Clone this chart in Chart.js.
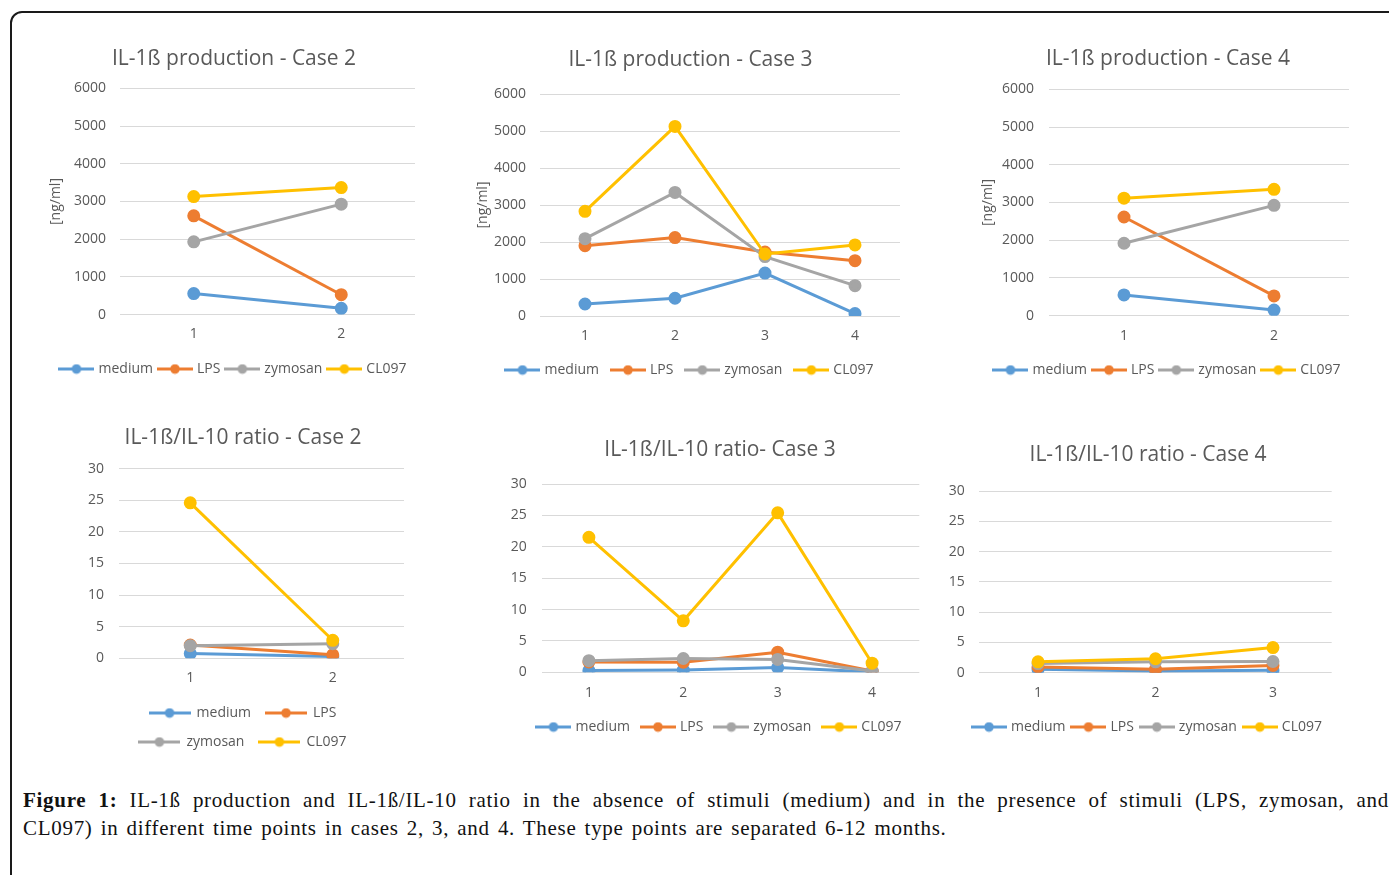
<!DOCTYPE html>
<html>
<head>
<meta charset="utf-8">
<title>IL-1ß production and IL-1ß/IL-10 ratio</title>
<script src="https://cdn.jsdelivr.net/npm/chart.js@4.4.1/dist/chart.umd.min.js"></script>
<style>
  html, body { margin: 0; padding: 0; background: #fff; width: 1389px; height: 875px; overflow: hidden; }
  .frame { position: absolute; left: 10px; top: 11px; width: 1420px; height: 920px; border: 2px solid #1a1a1a; border-radius: 12px; }
  canvas { position: absolute; }
  .caption { position: absolute; left: 23px; top: 786px; width: 1366px; font-family: "Liberation Serif", "Times New Roman", serif; font-size: 21px; line-height: 28px; color: #111; letter-spacing: 0.7px; word-spacing: 2.2px; }
  .caption .l1 { text-align: justify; text-align-last: justify; }
  .caption b { font-weight: bold; }
</style>
</head>
<body>
<div class="frame"></div>
<div class="caption">
  <div class="l1"><b>Figure 1:</b> IL-1ß production and IL-1ß/IL-10 ratio in the absence of stimuli (medium) and in the presence of stimuli (LPS, zymosan, and</div>
  <div>CL097) in different time points in cases 2, 3, and 4. These type points are separated 6-12 months.</div>
</div>
<script>
// series names and colours (Excel default palette)
const stimuli = ['medium', 'LPS', 'zymosan', 'CL097'];
const colors = ['#5B9BD5', '#ED7D31', '#A5A5A5', '#FFC000'];

// IL-1ß production [ng/ml]
const prodCase2Points = ['1', '2'];
const prodCase2Medium = [560, 170];
const prodCase2LPS = [2620, 530];
const prodCase2Zymosan = [1930, 2930];
const prodCase2CL097 = [3130, 3370];

const prodCase3Points = ['1', '2', '3', '4'];
const prodCase3Medium = [325, 480, 1160, 65];
const prodCase3LPS = [1900, 2120, 1730, 1495];
const prodCase3Zymosan = [2090, 3340, 1605, 820];
const prodCase3CL097 = [2830, 5125, 1675, 1920];

const prodCase4Points = ['1', '2'];
const prodCase4Medium = [550, 150];
const prodCase4LPS = [2615, 525];
const prodCase4Zymosan = [1920, 2925];
const prodCase4CL097 = [3115, 3350];

// IL-1ß/IL-10 ratio
const ratioCase2Points = ['1', '2'];
const ratioCase2Medium = [0.75, 0.3];
const ratioCase2LPS = [2.1, 0.55];
const ratioCase2Zymosan = [2.0, 2.3];
const ratioCase2CL097 = [24.6, 2.85];

const ratioCase3Points = ['1', '2', '3', '4'];
const ratioCase3Medium = [0.27, 0.37, 0.75, 0.05];
const ratioCase3LPS = [1.65, 1.6, 3.2, 0.2];
const ratioCase3Zymosan = [1.85, 2.2, 2.05, 0.2];
const ratioCase3CL097 = [21.5, 8.2, 25.4, 1.45];

const ratioCase4Points = ['1', '2', '3'];
const ratioCase4Medium = [0.55, 0.3, 0.4];
const ratioCase4LPS = [0.95, 0.55, 1.2];
const ratioCase4Zymosan = [1.5, 1.8, 1.85];
const ratioCase4CL097 = [1.8, 2.3, 4.15];

// y axis ranges
const prodMax = 6000, prodStep = 1000;
const ratioMax = 30, ratioStep = 5;

const textGrey = '#595959';
const font = '"Open Sans", "Noto Sans", sans-serif';

// where each panel sits on the page (canvas edges and the plot box inside it)
const panels = [
  { title: 'IL-1ß production - Case 2', labels: prodCase2Points,
    series: [prodCase2Medium, prodCase2LPS, prodCase2Zymosan, prodCase2CL097], max: prodMax, step: prodStep, yTitle: '[ng/ml]',
    left: 48, right: 420, gridLeft: 120, gridRight: 415, titleY: 58.3, gridTop: 88.3, gridBottom: 315, xLabelY: 334.3, legendY: 369.3, yPad: 14, legendPad: 7 },
  { title: 'IL-1ß production - Case 3', labels: prodCase3Points,
    series: [prodCase3Medium, prodCase3LPS, prodCase3Zymosan, prodCase3CL097], max: prodMax, step: prodStep, yTitle: '[ng/ml]',
    left: 475, right: 906, gridLeft: 540, gridRight: 900, titleY: 59.3, gridTop: 94, gridBottom: 316, xLabelY: 336, legendY: 370, yPad: 14, legendPad: 14 },
  { title: 'IL-1ß production - Case 4', labels: prodCase4Points,
    series: [prodCase4Medium, prodCase4LPS, prodCase4Zymosan, prodCase4CL097], max: prodMax, step: prodStep, yTitle: '[ng/ml]',
    left: 980, right: 1356, gridLeft: 1049, gridRight: 1349, titleY: 59, gridTop: 89.3, gridBottom: 315.7, xLabelY: 335.7, legendY: 370, yPad: 15, legendPad: 7 },
  { title: 'IL-1ß/IL-10 ratio - Case 2', labels: ratioCase2Points,
    series: [ratioCase2Medium, ratioCase2LPS, ratioCase2Zymosan, ratioCase2CL097], max: ratioMax, step: ratioStep,
    left: 82, right: 404, gridLeft: 119, gridRight: 404, titleY: 437.7, gridTop: 468.7, gridBottom: 658, xLabelY: 677.7, legendY: 712.7, yPad: 15,
    legendRows: 2, legendPad: 15, markBox: 40, markLen: 42 },
  { title: 'IL-1ß/IL-10 ratio- Case 3', labels: ratioCase3Points,
    series: [ratioCase3Medium, ratioCase3LPS, ratioCase3Zymosan, ratioCase3CL097], max: ratioMax, step: ratioStep,
    left: 510, right: 930, gridLeft: 541.7, gridRight: 919.3, titleY: 449.3, gridTop: 484, gridBottom: 672.3, xLabelY: 692.7, legendY: 727, yPad: 15, legendPad: 13 },
  { title: 'IL-1ß/IL-10 ratio - Case 4', labels: ratioCase4Points,
    series: [ratioCase4Medium, ratioCase4LPS, ratioCase4Zymosan, ratioCase4CL097], max: ratioMax, step: ratioStep,
    left: 945, right: 1351, gridLeft: 979.3, gridRight: 1331.7, titleY: 455, gridTop: 491, gridBottom: 672.7, xLabelY: 692.7, legendY: 727, yPad: 14.6, legendPad: 8 }
];

const titleSize = 21, tickSize = 14, legendSize = 14;

// legend marker: line with a dot, like Excel
function makeMark(color, len) {
  const c = document.createElement('canvas');
  c.width = len; c.height = 11;
  const g = c.getContext('2d');
  g.strokeStyle = color; g.lineWidth = 3;
  g.beginPath(); g.moveTo(0, 5.5); g.lineTo(len, 5.5); g.stroke();
  g.fillStyle = color;
  g.beginPath(); g.arc(len / 2, 5.5, 4.8, 0, Math.PI * 2); g.fill();
  return c;
}

panels.forEach(p => {
  const lp = p.legendPad;
  const rows = p.legendRows || 1;
  const marks = colors.map(c => makeMark(c, p.markLen || 36));
  const top = Math.round(p.titleY - titleSize * 1.2 / 2);
  const titlePadBottom = p.gridTop - top - titleSize * 1.2;
  const legendTop = p.legendY - lp - legendSize / 2;
  const bottom = legendTop + rows * (legendSize + lp) + 10;
  const xH = legendTop - p.gridBottom;
  const yW = p.gridLeft - p.left;
  const rW = p.right - p.gridRight;
  const xPad = p.xLabelY - p.gridBottom - tickSize * 1.2 / 2;

  const canvas = document.createElement('canvas');
  canvas.width = p.right - p.left;
  canvas.height = Math.round(bottom - top);
  canvas.style.left = p.left + 'px';
  canvas.style.top = top + 'px';
  document.body.appendChild(canvas);

  const scales = {
    x: {
      offset: true,
      grid: { display: false, drawTicks: false },
      border: { display: false },
      ticks: { color: textGrey, font: { family: font, size: tickSize }, padding: xPad, maxRotation: 0 },
      afterFit: s => { s.height = xH; s.paddingLeft = 0; s.paddingRight = 0; }
    },
    y: {
      min: 0, max: p.max,
      grid: { color: '#D9D9D9', lineWidth: 1, drawTicks: false },
      border: { display: false },
      ticks: { stepSize: p.step, color: textGrey, font: { family: font, size: tickSize }, padding: p.yPad, callback: v => String(v) },
      title: { display: !!p.yTitle, text: p.yTitle || '', color: textGrey, font: { family: font, size: 14 }, padding: 0 },
      afterFit: s => { s.width = yW; }
    }
  };
  if (rW > 0.5) {
    scales.yR = {
      position: 'right', display: true,
      grid: { display: false, drawTicks: false }, border: { display: false }, ticks: { display: false },
      afterFit: s => { s.width = rW; }
    };
  }

  new Chart(canvas, {
    type: 'line',
    data: {
      labels: p.labels,
      datasets: stimuli.map((name, i) => ({
        label: name,
        data: p.series[i],
        borderColor: colors[i],
        backgroundColor: colors[i],
        pointBackgroundColor: colors[i],
        pointBorderColor: colors[i],
        borderWidth: 3,
        pointRadius: 5,
        pointHoverRadius: 5,
        tension: 0,
        yAxisID: 'y',
        order: stimuli.length - i
      }))
    },
    options: {
      responsive: false,
      animation: false,
      layout: { padding: 0, autoPadding: false },
      scales: scales,
      plugins: {
        tooltip: { enabled: false },
        title: {
          display: true, text: p.title, color: textGrey,
          font: { family: font, size: titleSize, weight: 'normal' },
          padding: { top: 0, bottom: titlePadBottom }
        },
        legend: {
          display: true,
          position: 'bottom',
          labels: {
            usePointStyle: true,
            pointStyleWidth: p.markBox || 30,
            padding: lp,
            color: textGrey,
            font: { family: font, size: legendSize },
            sort: (a, b) => a.datasetIndex - b.datasetIndex,
            generateLabels: chart => {
              const items = Chart.defaults.plugins.legend.labels.generateLabels(chart);
              items.forEach(it => { it.pointStyle = marks[it.datasetIndex]; });
              return items;
            }
          }
        }
      }
    }
  });
});
</script>
</body>
</html>
